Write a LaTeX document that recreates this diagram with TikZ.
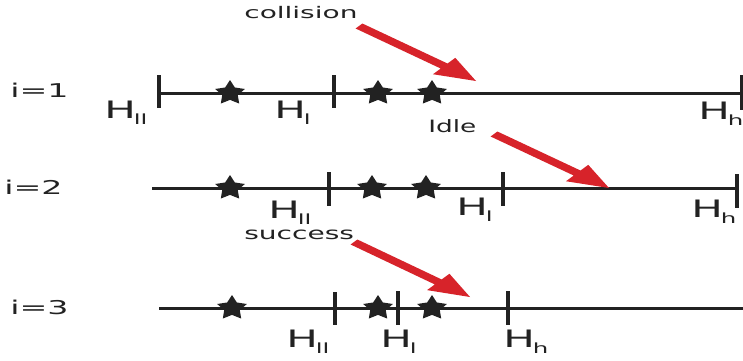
\documentclass[tikz,border=0pt]{standalone}
\usepackage{fontspec}
\setmainfont{DejaVu Sans}
\usetikzlibrary{shapes.geometric,calc}
\definecolor{ink}{HTML}{222222}
\definecolor{arr}{HTML}{D7232A}
\newcommand\Hlab[1]{H\kern-1.2pt\raisebox{-6pt}{\fontsize{14}{14}\selectfont #1}}
\newcommand\redarrow[4]{%
  \begin{scope}[xscale=1.7]
    \pgfmathsetmacro\ang{atan2(#4-#2,(#3-#1)/1.7)}
    \fill[arr]
      ($({#1/1.7},#2)+(\ang+90:3.2)$) --
      ($({#3/1.7},#4)+(\ang+180:24)+(\ang+90:3.2)$) --
      ($({#3/1.7},#4)+(\ang+180:24)+(\ang+90:10.5)$) --
      ({#3/1.7},#4) --
      ($({#3/1.7},#4)+(\ang+180:24)+(\ang-90:10.5)$) --
      ($({#3/1.7},#4)+(\ang+180:24)+(\ang-90:3.2)$) --
      ($({#1/1.7},#2)+(\ang-90:3.2)$) -- cycle;
  \end{scope}}
\tikzset{
  axis/.style={draw=ink, line width=3pt},
  tick/.style={draw=ink, line width=4pt},
  evt/.style={star, star points=5, star point ratio=1.9, fill=ink, draw=none,
    inner sep=0pt, minimum size=26pt, xscale=1.2},
  hlab/.style={inner sep=0pt, anchor=base west, xscale=1.75, text=ink,
    font=\fontsize{24}{24}\selectfont},
  rowlab/.style={inner sep=0pt, anchor=base west, xscale=1.75, text=ink,
    font=\fontsize{19}{19}\selectfont},
  word/.style={inner sep=0pt, anchor=base west, text=ink}
}
\begin{document}
\begin{tikzpicture}[x=1pt,y=-1pt]
\useasboundingbox (0,0) rectangle (743,360);
\fill[white] (0,0) rectangle (743,360);
\begin{scope}
\clip (0,0) rectangle (743,360);

% ---------- row 1 ----------
\node[rowlab] (r1) at (10,97) {i=1};
\coordinate (a1s) at (159,93);
\coordinate (a1e) at (743,93);
\draw[axis] (a1s) -- (a1e);
\draw[tick] (159,75) -- (159,108);
\draw[tick] (334,75) -- (334,108);
\draw[tick] (742,75) -- (742,110);
\node[evt] (s11) at (230,93) {};
\node[evt] (s12) at (378,93) {};
\node[evt] (s13) at (432,93) {};
\node[hlab] (h11) at (104,118) {\Hlab{ll}};
\node[hlab] (h12) at (274,118) {\Hlab{l}};
\node[hlab] (h13) at (698,119) {\Hlab{h}};
\node[word, xscale=1.75, font=\fontsize{16}{16}\selectfont] (col) at (244,18) {collision};
\redarrow{359}{26}{476}{81}

% ---------- row 2 ----------
\node[rowlab] (r2) at (4,194) {i=2};
\coordinate (a2s) at (152,188);
\coordinate (a2e) at (737,188);
\draw[axis] (a2s) -- (a2e);
\draw[tick] (329,172) -- (329,206);
\draw[tick] (503,172) -- (503,206);
\draw[tick] (737,174) -- (737,208);
\node[evt] (s21) at (230,188) {};
\node[evt] (s22) at (372,188) {};
\node[evt] (s23) at (426,188) {};
\node[hlab] (h21) at (268,218) {\Hlab{ll}};
\node[hlab] (h22) at (456,215) {\Hlab{l}};
\node[hlab] (h23) at (691,217) {\Hlab{h}};
\node[word, xscale=1.55, font=\fontsize{17}{17}\selectfont] (idl) at (428,132) {Idle};
\redarrow{494}{134}{609}{188}

% ---------- row 3 ----------
\node[rowlab] (r3) at (10,314) {i=3};
\coordinate (a3s) at (159,308);
\coordinate (a3e) at (743,308);
\draw[axis] (a3s) -- (a3e);
\draw[tick] (335,292) -- (335,325);
\draw[tick] (398,291) -- (398,325);
\draw[tick] (508,291) -- (508,325);
\node[evt] (s31) at (232,308) {};
\node[evt] (s32) at (378,308) {};
\node[evt] (s33) at (432,308) {};
\node[hlab] (h31) at (286,347) {\Hlab{ll}};
\node[hlab] (h32) at (380,347) {\Hlab{l}};
\node[hlab] (h33) at (503,347) {\Hlab{h}};
\node[word, xscale=1.65, font=\fontsize{17}{17}\selectfont] (suc) at (244,239) {success};
\redarrow{354}{242}{470}{297}
\end{scope}
\end{tikzpicture}
\end{document}
